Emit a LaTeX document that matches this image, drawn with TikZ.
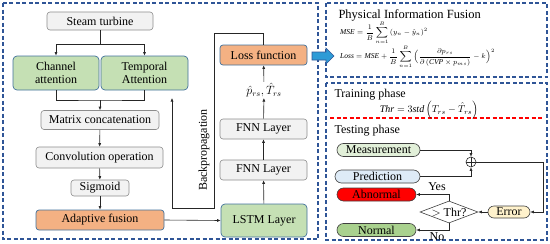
\documentclass[tikz,border=0pt]{standalone}
\usepackage{amsmath}
\usepackage{fontspec}
\setmainfont{Liberation Serif}
\usetikzlibrary{arrows.meta,shapes.geometric,shapes.misc}
\definecolor{frameblue}{HTML}{2F5597}
\definecolor{edgeblue}{HTML}{41719C}
\definecolor{grayfill}{HTML}{F2F2F2}
\definecolor{grayedge}{HTML}{8C8C8C}
\definecolor{greenfill}{HTML}{C5E0B4}
\definecolor{orangefill}{HTML}{F4B183}
\definecolor{measfill}{HTML}{E2F0D9}
\definecolor{predfill}{HTML}{DEEBF7}
\definecolor{normfill}{HTML}{A9D18E}
\definecolor{errfill}{HTML}{FFF2CC}
\definecolor{arrowfill}{HTML}{2E9BD6}
\tikzset{
  frame/.style={draw=frameblue,dashed,line width=1.1pt,dash pattern=on 4pt off 2.5pt},
  graybox/.style={draw=grayedge,fill=grayfill,rounded corners=3pt,line width=0.6pt,inner sep=0pt},
  greenbox/.style={draw=edgeblue,fill=greenfill,rounded corners=4pt,line width=0.7pt,inner sep=0pt,align=center},
  orangebox/.style={draw=edgeblue,fill=orangefill,rounded corners=3pt,line width=0.7pt,inner sep=0pt},
  pill/.style={draw=black!75,rounded rectangle,line width=0.6pt,inner sep=0pt},
  arr/.style={-{Latex[length=3.5pt,width=3pt]},line width=0.6pt,black!85},
  ln/.style={line width=0.6pt,black!85},
  every node/.style={font=\rmfamily\fontsize{12}{13.5}\selectfont},
  formula/.style={font=\rmfamily\fontsize{7.5}{9}\selectfont,inner sep=0pt}
}
\begin{document}
\begin{tikzpicture}[x=1pt,y=-1pt]
\useasboundingbox (0,0) rectangle (550,244);
% frames
\draw[frame] (3,3) rectangle (318,239);
\draw[frame] (326,3) rectangle (547,77);
\draw[frame] (326,83) rectangle (547,240);
\draw[red,dashed,line width=1.2pt,dash pattern=on 4pt off 2.5pt] (330,118) -- (544,118);

% left column
\node[graybox,minimum width=106pt,minimum height=18pt] (steam) at (100,21) {Steam turbine};
\node[greenbox,minimum width=86pt,minimum height=34pt] (ch) at (56,73) {Channel\\attention};
\node[greenbox,minimum width=87pt,minimum height=34pt] (tp) at (144.5,73) {Temporal\\Attention};
\node[graybox,minimum width=118pt,minimum height=19pt] (mat) at (100,120) {Matrix concatenation};
\node[graybox,minimum width=127pt,minimum height=21pt] (conv) at (99.5,157.5) {Convolution operation};
\node[graybox,minimum width=58pt,minimum height=16pt] (sig) at (100,188) {Sigmoid};
\node[orangebox,minimum width=128pt,minimum height=20pt] (adap) at (100,220) {Adaptive fusion};

\coordinate (j1) at (100,44);
\coordinate (j2) at (100,100);
\draw[ln] (steam.south) -- (j1);
\draw[arr] (j1) -| (ch.north);
\draw[arr] (j1) -| (tp.north);
\draw[ln] (ch.south) |- (j2) -| (tp.south);
\draw[arr] (j2) -- (mat.north);
\draw[arr] (mat) -- (conv);
\draw[arr] (conv) -- (sig);
\draw[arr] (sig) -- (adap);

% middle column
\node[orangebox,minimum width=87pt,minimum height=20pt] (loss) at (263.5,55) {Loss function};
\node[inner sep=1pt] (lab) at (264,90) {$\hat{p}_{rs},\hat{T}_{rs}$};
\node[graybox,minimum width=87pt,minimum height=20pt] (fnn2) at (263.5,129) {FNN Layer};
\node[graybox,minimum width=87pt,minimum height=20pt] (fnn1) at (263.5,170) {FNN Layer};
\node[greenbox,minimum width=86pt,minimum height=33pt] (lstm) at (264,220.5) {LSTM Layer};

\draw[arr] (adap.east) -- (lstm.west);
\draw[arr] (lstm) -- (fnn1);
\draw[arr] (fnn1) -- (fnn2);
\draw[arr] (fnn2) -- (lab);
\draw[arr] (lab) -- (loss);

\coordinate (b1) at (214,33);
\coordinate (b2) at (214,208);
\coordinate (b3) at (172,208);
\coordinate (b4) at (172,98);
\draw[arr] (loss.north) |- (b1) -- (b2) -- (b3) -- (b4);
\node[rotate=90] (bp) at (204,150) {Backpropagation};

% blue block arrow
\fill[arrowfill,draw=frameblue,line width=0.6pt] (312,52) -- (326,52) -- (326,48) -- (334,56) -- (326,64) -- (326,60) -- (312,60) -- cycle;

% top right
\node[anchor=west,font=\rmfamily\fontsize{12.5}{14}\selectfont] (pif) at (335,15) {Physical Information Fusion};
\node[formula,anchor=west] (mse) at (340,33) {$\displaystyle\mathit{MSE}=\frac{1}{B}\sum_{n=1}^{B}\left(y_n-\hat{y}_n\right)^2$};
\node[formula,anchor=west] (lossf) at (340,57) {$\displaystyle\mathit{Loss}=\mathit{MSE}+\frac{1}{B}\sum_{n=1}^{B}\Big(\frac{\partial p_{rs}}{\partial\left(\mathit{CVP}\times p_{ms}\right)}-k\Big)^2$};

% bottom right
\node[anchor=west] (tr) at (331,95) {Training phase};
\node[formula,font=\rmfamily\fontsize{10}{11}\selectfont] (thr) at (429,110) {$\mathit{Thr}=3\mathit{std}\left(T_{rs}-\hat{T}_{rs}\right)$};
\node[anchor=west] (te) at (331,131) {Testing phase};

\node[pill,fill=measfill,minimum width=83pt,minimum height=13pt] (meas) at (378.5,150) {Measurement};
\node[pill,fill=predfill,minimum width=85pt,minimum height=13pt] (pred) at (377.5,176.5) {Prediction};
\node[pill,fill=red,minimum width=79pt,minimum height=13pt] (abn) at (376.5,194.5) {Abnormal};
\node[pill,fill=normfill,minimum width=79pt,minimum height=13pt] (norm) at (376.5,230) {Normal};
\node[pill,fill=errfill,minimum width=42pt,minimum height=12pt] (err) at (509,212) {Error};
\node[diamond,draw=black!75,line width=0.6pt,aspect=2.6,minimum width=58pt,minimum height=22pt,inner sep=0pt] (dia) at (449,212) {$>$ Thr?};
\node[circle,draw=black!85,line width=0.6pt,minimum size=10pt,inner sep=0pt,
  path picture={\draw[black!85,line width=0.6pt] (path picture bounding box.north) -- (path picture bounding box.south) (path picture bounding box.west) -- (path picture bounding box.east);}] (circ) at (471,162) {};

\draw[arr] (meas.east) -| (circ.north);
\draw[arr] (pred.east) -| (circ.south);
\coordinate (c1) at (543,162);
\draw[arr] (circ.east) -- (c1) |- (err.east);
\draw[arr] (err.west) -- (dia.east);
\draw[arr] (dia.north) |- (abn.east);
\draw[arr] (dia.south) |- (norm.east);
\node (yes) at (437,187) {Yes};
\node (no) at (437,237) {No};
\end{tikzpicture}
\end{document}
